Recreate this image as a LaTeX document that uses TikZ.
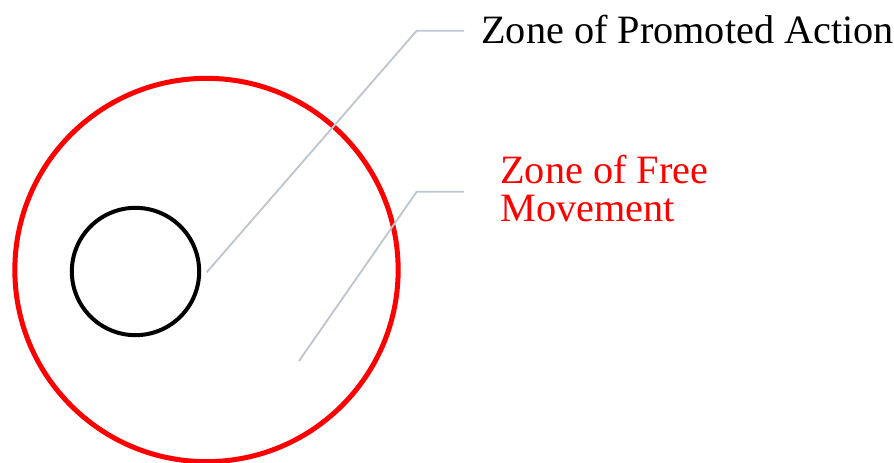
\documentclass[tikz,border=0pt]{standalone}
\usepackage{fontspec}
\setmainfont{Liberation Serif}
\usepackage{xcolor}
\usepackage{tikz}
\usetikzlibrary{positioning,calc}
\definecolor{zoneRed}{RGB}{255,0,0}
\definecolor{leaderGray}{RGB}{190,198,207}
\newcommand{\zonefont}{\fontsize{30.2}{28.8}\selectfont}

\begin{document}
\begin{tikzpicture}[x=0.75pt, y=-0.75pt]
\tikzstyle{zone}=[circle, draw, inner sep=0pt]
\tikzstyle{leader}=[draw=leaderGray, line width=1.4pt]
\tikzstyle{label}=[inner sep=0pt, align=left, font=\zonefont]
\useasboundingbox (0,0) rectangle (894,463);

\node[zone, draw=zoneRed, line width=3.75pt, minimum size=287.5pt] (free) at (206.5,270) {};
\node[zone, draw=black, line width=3pt, minimum size=95.5pt] (promoted) at (135.5,271.5) {};

\coordinate (actionstart) at (206.7,272.3);
\coordinate (actionbend) at (416.7,30.7);
\coordinate (freestart) at (299,361);
\coordinate (freebend) at (416.7,191.7);

\node[label, anchor=base west] (actionlabel) at (481,43.5) {Zone of Promoted Action};
\node[label, anchor=west, text=zoneRed] (freelabel) at (500,188.8) {Zone of Free\\Movement};

\draw[leader] (actionstart) -- (actionbend) -- ([xshift=-12.75pt]actionbend -| actionlabel.west);
\draw[leader] (freestart) -- (freebend) -- ([xshift=-26.9pt]freebend -| freelabel.west);
\end{tikzpicture}
\end{document}
